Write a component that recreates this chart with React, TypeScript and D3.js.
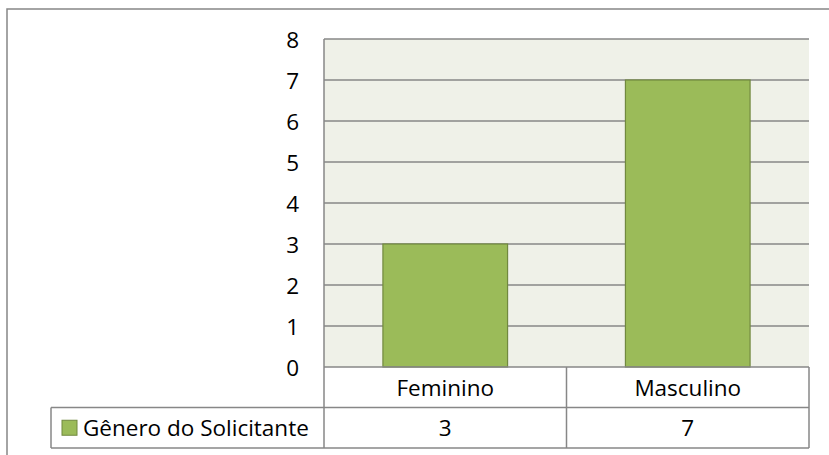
import React from 'react'
import * as d3 from 'd3'

// data
const categories = ['Feminino', 'Masculino']
const seriesName = 'Gênero do Solicitante'
const seriesValues = [3, 7]
const yTicks = [0, 1, 2, 3, 4, 5, 6, 7, 8]

const W = 829
const H = 455
const plot = { left: 324, right: 809, top: 39, bottom: 367 }
const rowH = 40.5
const legendLeft = 51
const font = '"Open Sans", sans-serif'
const fontSize = 22.5
const grey = '#878787'
const barFill = '#9BBB59'
const barStroke = '#71893F'

export default function App() {
    const y = d3.scaleLinear().domain([0, 8]).range([plot.bottom, plot.top])
    const x = d3.scaleBand<string>().domain(categories).range([plot.left, plot.right])
    const bw = x.bandwidth() * 0.514
    const row1 = plot.bottom
    const row2 = plot.bottom + rowH
    const row3 = plot.bottom + rowH * 2

    return (
        <svg width={W} height={H} style={{ position: 'absolute', left: 0, top: 0, background: '#fff' }}
            fontFamily={font} fontSize={fontSize}>
            {/* outer chart border */}
            <rect x={7} y={9} width={W + 20} height={H + 20} fill="none" stroke={grey} strokeWidth={1.5} />

            {/* plot background */}
            <rect x={plot.left} y={plot.top} width={plot.right - plot.left} height={plot.bottom - plot.top} fill="#EFF1E8" />

            {/* gridlines */}
            {yTicks.filter(t => t > 0).map(t => (
                <line key={'g' + t} x1={plot.left} x2={plot.right} y1={y(t)} y2={y(t)} stroke={grey} strokeWidth={1.5} />
            ))}

            {/* bars */}
            {categories.map((c, i) => {
                const cx = (x(c) as number) + x.bandwidth() / 2
                return (
                    <rect key={c} x={cx - bw / 2} y={y(seriesValues[i])} width={bw}
                        height={y(0) - y(seriesValues[i])} fill={barFill} stroke={barStroke} strokeWidth={1.2} />
                )
            })}

            {/* y axis line + labels */}
            <line x1={plot.left} x2={plot.left} y1={plot.top} y2={row3} stroke={grey} strokeWidth={1.5} />
            {yTicks.map(t => (
                <text key={'y' + t} x={299} y={y(t)} textAnchor="end" dominantBaseline="central" fill="#000">{t}</text>
            ))}

            {/* data table */}
            <line x1={plot.left} x2={plot.right} y1={row1} y2={row1} stroke={grey} strokeWidth={1.5} />
            <line x1={legendLeft} x2={plot.right} y1={row2} y2={row2} stroke={grey} strokeWidth={1.5} />
            <line x1={legendLeft} x2={plot.right} y1={row3} y2={row3} stroke={grey} strokeWidth={1.5} />
            <line x1={legendLeft} x2={legendLeft} y1={row2} y2={row3} stroke={grey} strokeWidth={1.5} />
            {categories.map(c => {
                const right = (x(c) as number) + x.bandwidth()
                return <line key={'v' + c} x1={right} x2={right} y1={row1} y2={row3} stroke={grey} strokeWidth={1.5} />
            })}
            {categories.map((c, i) => {
                const cx = (x(c) as number) + x.bandwidth() / 2
                return (
                    <g key={'t' + c}>
                        <text x={cx} y={(row1 + row2) / 2} textAnchor="middle" dominantBaseline="central">{c}</text>
                        <text x={cx} y={(row2 + row3) / 2} textAnchor="middle" dominantBaseline="central">{seriesValues[i]}</text>
                    </g>
                )
            })}

            {/* legend key in table */}
            <rect x={62} y={(row2 + row3) / 2 - 7.5} width={15} height={15} fill={barFill} stroke={barStroke} strokeWidth={1} />
            <text x={83} y={(row2 + row3) / 2} dominantBaseline="central">{seriesName}</text>
        </svg>
    )
}
